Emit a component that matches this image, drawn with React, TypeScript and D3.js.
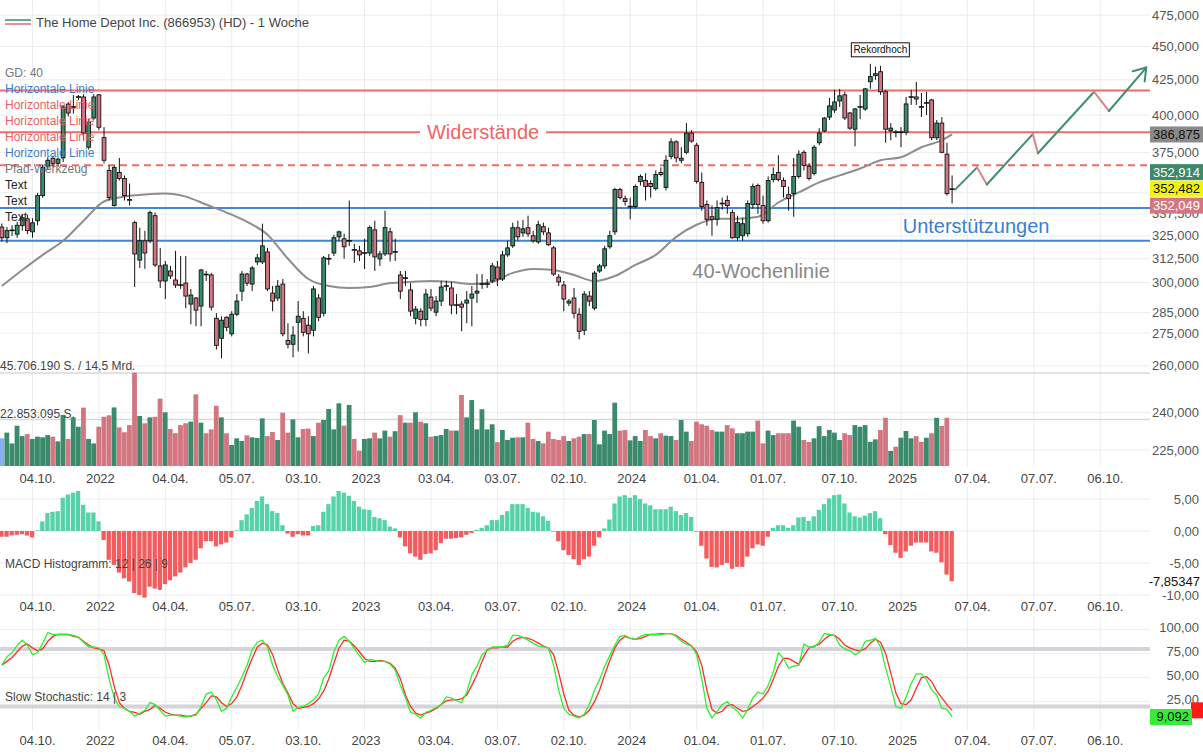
import * as d3 from "d3";

// ---- data (weekly, first candle = week of Mon 23.08.2021) ----
const firstWeek = new Date(2021, 7, 23);

// [open, high, low, close]
const ohlc: number[][] = [
  [330, 332, 322, 324], [324, 330, 321, 328], [328, 331, 325, 328.3], [326, 333, 324, 331], [330.8, 337.5, 328, 335.3],
  [334.7, 337, 326, 328], [327.3, 335, 324, 332.4], [333.6, 350, 331, 348.3], [348.3, 367, 347, 365.6], [366.3, 372, 364, 370.1],
  [371.4, 373, 366, 368.2], [368.2, 372, 366, 370.8], [371.6, 407, 369, 405.6], [407.6, 409, 399, 401.4], [405.4, 414, 401, 405.8],
  [412.4, 414.1, 410.5, 412.8], [412.6, 414.6, 383.1, 387.8], [378.5, 397.5, 377, 395.2], [398, 414.6, 396.6, 412.6], [414.1, 414.6, 389.8, 391.7],
  [384.8, 391.8, 368.2, 370.1], [363.7, 366.9, 345.4, 347.1], [342.4, 366.9, 341.8, 365.6], [362.4, 371.6, 357.5, 358.7], [358.7, 360.6, 345.4, 348.3],
  [346, 355.6, 342.4, 345.5], [332.5, 333.6, 297.7, 315.1], [311.8, 329.6, 307.6, 322.3], [322.3, 327.9, 307.1, 315.6], [322.3, 339.4, 321, 338.3],
  [336.5, 338.3, 308.1, 309.2], [308.7, 318.4, 297.2, 300.8], [300.8, 311.3, 291.6, 309.2], [306, 308.7, 301.8, 303.4], [301.3, 316.8, 297.2, 298.7],
  [298.9, 314, 296.7, 298.5], [299.7, 314, 287.1, 293.1], [289.1, 296.7, 279.2, 293.6], [292.1, 292.6, 278.3, 286.1], [288.1, 307.1, 278.3, 306.5],
  [304.4, 306, 300.8, 303.9], [303.9, 305, 286, 287.6], [282.1, 284.6, 267.4, 269.3], [272.6, 283.1, 263.4, 281.2], [282.6, 283.1, 275.9, 277.8],
  [274.7, 285.6, 273.5, 284.1], [284.1, 294.1, 283.1, 290.6], [295.6, 306, 290.6, 304.4], [304.4, 305, 298.2, 299.7], [299.2, 308.7, 295.6, 307.6],
  [310.8, 315.1, 309.2, 313], [310.8, 331.9, 309.7, 319.5], [316.2, 318.4, 295.6, 296.7], [294.6, 298.2, 285.6, 290.6], [292.1, 301.3, 290.6, 298.2],
  [299.2, 301.8, 273.5, 274.7], [271.6, 279.7, 267.9, 269.8], [269.8, 278.3, 263.8, 274.1], [280.2, 290.6, 266.5, 283.1], [282.1, 285.6, 273.5, 275.4],
  [278.8, 283.1, 265.6, 274.7], [276.4, 298.2, 273.5, 296.7], [292.1, 294.1, 280.7, 282.6], [284.6, 314, 283.1, 313], [312.3, 315.1, 309.2, 312.7],
  [315.6, 325.6, 314, 324], [324.5, 327.9, 322.3, 327.3], [323.4, 326.2, 312.5, 319], [322.1, 345.4, 319.5, 322.5], [317.5, 320.6, 310.3, 317.1],
  [316.8, 319.5, 311.3, 314.6], [315.4, 323.4, 307.1, 315.8], [315.6, 330.8, 314, 329.7], [328.4, 333.6, 306, 313.5], [312.4, 316.8, 308.7, 315.1],
  [315.1, 339.4, 314, 329.7], [327.3, 329.6, 311, 315.1], [316, 323.4, 311.3, 316.4], [303.9, 306, 291.6, 295.6], [302.1, 306, 298.2, 302.5],
  [296.2, 299.7, 283.1, 285.6], [282.1, 288.1, 279.2, 286.6], [285.6, 287.1, 278.3, 281.6], [281.6, 296.7, 278.3, 294.1], [292.6, 296.7, 285.6, 287.1],
  [285.1, 293.1, 283.1, 290.6], [290.6, 300.8, 288.1, 297.7], [298, 300.8, 295.6, 298.4], [297.2, 300.3, 284.1, 288.6], [288.4, 294.1, 284.1, 288.8],
  [289.1, 290.6, 275.9, 287.6], [289.6, 295.6, 279.7, 291.1], [292.1, 298.2, 278.3, 294.1], [294.6, 304.4, 289.6, 295.6], [299, 304.4, 296.7, 299.4],
  [299, 301.8, 297.2, 299.4], [300.8, 310.3, 299.7, 308.7], [308.1, 311.3, 298.2, 301.8], [301.8, 316.8, 300.8, 314.6], [314.6, 322.3, 313.5, 318.4],
  [319.5, 332.5, 318.4, 329.6], [329.6, 333.6, 322.3, 324.5], [326.7, 334.1, 324.5, 329], [329.6, 336.5, 324.5, 326.2], [325.1, 327.9, 321.2, 322.3],
  [321.7, 333.6, 320.6, 331.3], [330.2, 332.5, 325.6, 327.3], [326.7, 329.6, 319.5, 320.1], [318.4, 319.5, 303.4, 304.4], [302.8, 304.4, 298.2, 300.3],
  [298.7, 300.8, 285.6, 291.6], [289.6, 291.6, 288.1, 290.6], [292.1, 297.2, 282.1, 284.6], [284.1, 287.1, 272.1, 275.9], [276.4, 295.6, 274.1, 294.1],
  [293.1, 295.6, 288.1, 290.6], [287.1, 306, 286.1, 304.9], [306, 309.7, 305, 308.7], [308.7, 319.5, 307.1, 317.9], [319, 327.9, 317.9, 325.1],
  [327.3, 353, 325.6, 352], [352, 353, 346, 347.1], [346.5, 348.3, 342.4, 344.8], [341.6, 347.1, 334.4, 342], [341.8, 355, 340.6, 353.8],
  [356.9, 361.2, 354.4, 360], [357.5, 361.9, 345.4, 353.8], [355.6, 357.5, 347.1, 353.8], [352.6, 363.7, 351.4, 361.2], [362.4, 365.6, 360, 361.2],
  [353.2, 373.3, 351.4, 370.1], [372.6, 384.4, 370.7, 382], [382, 383.1, 368.8, 371.6], [370.1, 378.5, 368.2, 371.4], [375.2, 394.5, 374, 387.8],
  [387.8, 389.8, 381.4, 382.5], [379.8, 381.4, 355.6, 356.9], [356.3, 362.4, 339.4, 341.8], [343, 345.4, 330.8, 334.4], [335.9, 342.4, 325.1, 334.4],
  [334.4, 345.4, 330.8, 341.2], [343.4, 347.1, 340, 343.8], [345.4, 348.3, 337.6, 342.4], [338.3, 340, 323.4, 324], [324, 336.5, 322.3, 332.5],
  [325.1, 335.3, 322.3, 331.9], [326.2, 345.4, 324.5, 343.6], [343, 355.6, 340.6, 353.8], [354.4, 355.6, 337.6, 343], [342.4, 348.3, 331.9, 333.6],
  [333.6, 360, 332.5, 357.5], [358.1, 365.6, 356.3, 361.2], [362.4, 373.3, 356.9, 358.1], [357.5, 359.3, 347.1, 353.8], [348.9, 353.8, 339.4, 346.5],
  [349.5, 371.6, 335.9, 359.9], [360, 376.5, 358.7, 374], [375.2, 376.5, 363.7, 366.9], [366.3, 368.2, 357.5, 358.7], [361.9, 379.8, 360.6, 378.5],
  [381.4, 391.1, 379.8, 387.8], [389.2, 398.6, 388.4, 397.9], [398.6, 411.9, 396.6, 406.3], [403.5, 417.7, 401.4, 409.1], [409.8, 418.4, 405.6, 413.4],
  [414.1, 416.3, 396.6, 398], [401.4, 402.1, 389.8, 391.1], [390.4, 404.9, 379.1, 404.2], [405.4, 414.1, 397.2, 405.8], [404.2, 419.1, 402.8, 418.4],
  [423.6, 436.8, 418.4, 427.3], [428, 434.6, 425, 429.4], [430.9, 435.3, 414.1, 416.3], [416.3, 417.7, 381.4, 390.4], [389.2, 394.5, 383.1, 391.1],
  [388.6, 389.8, 385, 388.2], [388.2, 391.8, 378.5, 388.6], [388.4, 412.6, 386.4, 407.7], [412.4, 417.7, 407, 412.8], [412.6, 423.5, 407, 411.2],
  [405.8, 415.5, 398.6, 405.4], [408.2, 416.3, 400, 408.6], [410.5, 411.2, 383.1, 384.7], [384.7, 396.6, 383.1, 394.5], [394.5, 398.6, 374.6, 375.2],
  [374, 381.4, 348.3, 349.5], [351.9, 360.6, 343.6, 352.5],
];

// volume in millions of shares
const volumeM = [
  13.6, 16.4, 11.1, 19.8, 14.7, 15.7, 13.3, 14.4, 14.1, 15.2,
  14.4, 12.1, 25.1, 13.3, 23.9, 19.3, 28.7, 13.3, 11.1, 19.3,
  24.2, 24.9, 28.8, 19.0, 16.6, 20.1, 45.9, 24.6, 21.0, 23.9,
  24.2, 33.1, 26.4, 18.2, 16.1, 20.1, 21.0, 21.8, 35.2, 21.3,
  16.1, 18.0, 29.6, 23.9, 16.1, 10.3, 13.6, 12.3, 15.1, 14.1,
  13.8, 23.4, 14.7, 16.7, 12.8, 26.2, 16.4, 22.9, 14.1, 18.2,
  18.4, 14.7, 21.3, 22.6, 28.0, 18.0, 30.8, 19.8, 30.0, 13.3,
  7.5, 13.3, 13.6, 16.4, 13.6, 17.4, 14.4, 17.1, 25.0, 21.3,
  21.3, 26.4, 21.8, 21.0, 14.4, 14.7, 15.2, 18.2, 17.4, 17.4,
  34.9, 23.9, 32.4, 18.0, 27.9, 18.0, 20.5, 11.7, 17.7, 12.8,
  13.9, 14.1, 14.1, 21.3, 13.3, 12.3, 11.1, 16.9, 13.3, 12.8,
  14.7, 12.3, 13.6, 14.4, 15.7, 15.7, 22.6, 10.7, 17.4, 15.7,
  31.1, 17.4, 17.7, 12.6, 14.7, 12.3, 17.7, 14.7, 13.6, 16.1,
  14.9, 14.7, 12.8, 22.6, 16.9, 12.3, 21.8, 20.5, 19.8, 17.7,
  16.9, 16.9, 20.1, 18.5, 16.1, 16.1, 16.9, 16.9, 22.3, 11.1,
  17.4, 15.2, 16.1, 16.1, 16.1, 22.3, 19.3, 12.8, 11.8, 13.6,
  19.6, 14.7, 17.7, 16.4, 12.8, 16.1, 15.2, 20.1, 19.3, 20.1,
  11.9, 13.1, 17.7, 23.7, 7.4, 9.5, 13.9, 17.2, 13.6, 14.7,
  11.9, 13.9, 16.1, 23.7, 19.7, 23.7, 0,
];

const macdHist = [
  -0.9, -0.9, -0.7, -0.6, -0.5, -0.7, -1.0, 0.1, 1.5, 2.8,
  3.0, 3.1, 5.2, 5.7, 6.0, 6.25, 4.1, 2.9, 2.9, 1.5,
  -1.4, -4.5, -5.3, -6.5, -7.4, -7.9, -9.7, -10.0, -10.4, -8.7,
  -9.0, -9.2, -8.3, -7.7, -7.1, -6.5, -5.7, -5.0, -4.5, -2.7,
  -1.6, -1.6, -2.4, -2.1, -1.8, -1.0, 0.1, 1.7, 2.6, 3.6,
  4.7, 5.4, 4.2, 3.1, 2.8, 0.9, -0.4, -0.9, -0.5, -0.7,
  -0.7, 0.8, 0.9, 3.0, 4.2, 5.4, 6.25, 6.0, 5.5, 4.7,
  3.8, 3.4, 3.3, 2.2, 2.0, 1.7, 0.7, 0.4, -1.0, -2.4,
  -3.5, -4.0, -4.5, -3.6, -3.5, -3.0, -1.9, -1.2, -1.2, -1.1,
  -1.0, -0.6, -0.3, 0.2, 0.5, 0.9, 1.7, 1.7, 2.5, 3.1,
  4.2, 4.2, 4.2, 3.6, 3.0, 2.9, 2.3, 1.6, -0.1, -1.6,
  -3.0, -3.75, -4.4, -5.3, -4.4, -4.0, -2.3, -1.0, 0.4, 1.8,
  4.3, 5.4, 5.6, 5.2, 5.6, 5.0, 4.3, 4.0, 3.4, 3.4,
  3.4, 3.8, 3.1, 2.5, 2.8, 2.2, -0.1, -2.3, -4.3, -5.6,
  -5.7, -5.3, -5.0, -5.9, -5.6, -5.6, -4.0, -2.7, -2.1, -2.3,
  -0.9, 0.5, 0.9, 0.9, 0.5, 0.9, 2.1, 2.2, 1.6, 2.3,
  3.3, 4.2, 5.1, 5.6, 5.7, 4.3, 2.9, 2.3, 2.1, 2.4,
  2.8, 3.1, 2.0, -0.5, -2.2, -3.4, -4.2, -3.2, -2.3, -1.8,
  -1.8, -1.8, -3.2, -3.4, -4.9, -6.8, -7.85,
];

const stochK = [
  63, 72, 76, 84, 89, 84, 74, 76, 86, 97,
  95, 95, 95, 95, 94, 92, 87, 82, 82, 81,
  74, 48, 29, 20, 18, 15, 10, 13, 16, 24,
  22, 16, 10, 11, 11, 10, 9, 10, 11, 20,
  33, 35, 27, 15, 18, 30, 40, 51, 63, 79,
  87, 89, 82, 63, 51, 42, 32, 15, 19, 20,
  23, 27, 33, 50, 57, 77, 89, 93, 88, 80,
  73, 66, 69, 68, 67, 67, 64, 58, 42, 29,
  14, 12, 8, 14, 16, 19, 22, 30, 29, 26,
  24, 35, 53, 62, 74, 78, 82, 82, 82, 84,
  94, 94, 92, 89, 86, 83, 82, 81, 63, 37,
  18, 12, 10, 8, 12, 22, 37, 48, 62, 73,
  84, 93, 94, 91, 90, 93, 95, 95, 95, 95,
  96, 96, 93, 88, 85, 83, 74, 49, 18, 8,
  15, 22, 25, 19, 15, 8, 17, 29, 35, 33,
  42, 56, 76, 70, 60, 62, 63, 85, 82, 82,
  87, 96, 95, 94, 84, 80, 78, 74, 77, 88,
  89, 91, 82, 60, 41, 20, 18, 30, 44, 54,
  54, 48, 37, 32, 18, 17, 9.092,
];

const stochD = [
  63, 67, 71, 77, 83, 85, 81, 78, 80, 88,
  93, 95, 95, 95, 93, 92, 88, 84, 81, 80,
  78, 63, 41, 24, 18, 15, 14, 12, 15, 17,
  21, 18, 14, 12, 11, 11, 10, 10, 12, 18,
  24, 31, 30, 24, 20, 23, 30, 42, 57, 70,
  82, 86, 84, 74, 58, 44, 34, 23, 18, 19,
  20, 23, 28, 36, 49, 65, 81, 89, 88, 83,
  77, 70, 67, 67, 68, 67, 65, 60, 49, 32,
  20, 13, 11, 13, 15, 18, 22, 26, 27, 27,
  28, 32, 42, 53, 67, 79, 81, 81, 82, 82,
  88, 91, 92, 91, 89, 86, 83, 81, 74, 55,
  33, 16, 11, 9, 11, 16, 25, 37, 53, 68,
  81, 89, 93, 91, 90, 91, 93, 95, 95, 96,
  96, 96, 94, 90, 87, 83, 77, 63, 37, 17,
  13, 15, 21, 22, 18, 15, 16, 20, 24, 29,
  36, 48, 62, 70, 70, 67, 64, 73, 81, 83,
  85, 90, 94, 94, 90, 84, 81, 79, 78, 80,
  86, 90, 87, 75, 55, 34, 23, 22, 27, 39,
  50, 51, 46, 36, 29, 22, 16,
];

// 40-week moving average, read every 4 weeks
const maWeeks = [0, 4, 8, 12, 16, 20, 24, 28, 32, 36, 40, 44, 48, 52, 56, 60, 64, 68, 72, 76, 80, 84, 88, 92,
  96, 100, 104, 108, 112, 116, 120, 124, 128, 132, 136, 140, 144, 148, 152, 156, 160, 164, 168, 172, 176, 180, 184, 186];
const maValues = [298.2, 306.5, 314.6, 322.3, 333.6, 344.8, 347.7, 348.9, 349.5, 347.7, 343.0, 338.3, 333.0, 325.7,
  312.5, 301.8, 298.2, 297.2, 297.7, 299.7, 300.3, 300.8, 300.3, 299.2, 300.3, 305.0, 307.1, 306.5, 303.9, 300.8,
  303.4, 309.2, 314.6, 324.5, 331.3, 334.7, 334.7, 335.9, 344.2, 350.2, 356.3, 360.6, 364.9, 370.1, 372.0, 378.5,
  383.1, 386.875];

const dateTickLabels = ["04.10.", "2022", "04.04.", "05.07.", "03.10.", "2023", "03.04.", "03.07.", "02.10.",
  "2024", "01.04.", "01.07.", "07.10.", "2025", "07.04.", "07.07.", "06.10."];
const dateTickDates = ["2021-10-04", "2022-01-03", "2022-04-04", "2022-07-04", "2022-10-03", "2023-01-02",
  "2023-04-03", "2023-07-03", "2023-10-02", "2024-01-01", "2024-04-01", "2024-07-01", "2024-10-07",
  "2025-01-06", "2025-04-07", "2025-07-07", "2025-10-06"];

const priceTicks = [475, 450, 425, 400, 375, 350, 337.5, 325, 312.5, 300, 285, 275, 260, 240, 225];
// 350,000 sits under the value boxes, so no label for it
const priceLabels = [475, 450, 425, 400, 375, 337.5, 325, 312.5, 300, 285, 275, 260, 240, 225];
const macdTicks = [5, 0, -5, -10];
const stochTicks = [100, 75, 50, 25];

// drawn horizontal lines (Horizontale Linie)
const hLinePrices = [417.2, 388.4, 366.9, 341.0, 322.3];
const hLineKinds = ["res", "res", "resDash", "sup", "sup"];

// Pfad-Werkzeug: [week index, price]
const pathWeeks = [186.6, 190.9, 192.8, 201.8, 202.8, 213.8, 216.7, 224.0];
const pathPrices = [351.9, 365.6, 355.0, 387.1, 374.6, 416.3, 402.8, 434.0];

const toolLabels = ["GD: 40", "Horizontale Linie", "Horizontale Linie", "Horizontale Linie", "Horizontale Linie",
  "Horizontale Linie", "Pfad-Werkzeug", "Text", "Text", "Text"];
const toolColors = ["#777", "#3a7fd3", "#f0605f", "#f0605f", "#f0605f", "#3a7fd3", "#777", "#222", "#222", "#222"];

const FONT = "'Liberation Sans', Arial, Helvetica, sans-serif";
const C_UP = "#3a8a6b";
const C_DN = "#d27782";
const C_RES = "#f06464";
const C_SUP = "#3a7fd3";
const GRID = "#ececec";
const PLOT_R = 1150;

const fmt = (v: number, d: number) => v.toFixed(d).replace(".", ",");

export default function App() {
  const W = 1203, H = 754;
  const x = d3.scaleTime()
    .domain([new Date(2021, 9, 4), new Date(2025, 0, 6)])
    .range([32.5, 901]);
  const weekPx = (x(new Date(2025, 0, 6)) - x(new Date(2021, 9, 4))) / 170;
  const x0 = x(firstWeek);
  const xi = (i: number) => x0 + i * weekPx;

  const yP = d3.scaleLog().domain([225, 475]).range([450, 15]);
  const yV = d3.scaleLinear().domain([0, 45.70619]).range([466, 373]);
  const yM = d3.scaleLinear().domain([0, 5]).range([531, 499]);
  const yS = d3.scaleLinear().domain([0, 100]).range([725.7, 629.7]);

  const tickDates = dateTickDates.map((s) => d3.timeParse("%Y-%m-%d")(s) as Date);

  const maLine = d3.line<number>()
    .x((_, i) => xi(maWeeks[i]))
    .y((d) => yP(d))
    .curve(d3.curveMonotoneX);
  const stochLine = d3.line<number>()
    .x((_, i) => xi(i))
    .y((d) => yS(d));

  const last = ohlc[ohlc.length - 1];
  const lastY = yP(last[3]);

  // path segments
  const segs = pathWeeks.slice(1).map((w, k) => ({
    x1: xi(pathWeeks[k]), y1: yP(pathPrices[k]), x2: xi(w), y2: yP(pathPrices[k + 1]),
    up: pathPrices[k + 1] > pathPrices[k],
  }));
  const lastSeg = segs[segs.length - 1];
  const ang = Math.atan2(lastSeg.y2 - lastSeg.y1, lastSeg.x2 - lastSeg.x1);
  const head = [ang + Math.PI - 0.6, ang + Math.PI + 0.6].map((a) => [
    lastSeg.x2 + 14 * Math.cos(a), lastSeg.y2 + 14 * Math.sin(a),
  ]);

  const dateRow = (y: number, key: string) => (
    <g key={key}>
      {tickDates.map((d, k) => (
        <text key={k} x={x(d) - 13} y={y} fontSize={13} fill="#444" dominantBaseline="central">
          {dateTickLabels[k]}
        </text>
      ))}
    </g>
  );

  const vGrid = (y1: number, y2: number, key: string) => (
    <g key={key}>
      {tickDates.map((d, k) => (
        <line key={k} x1={x(d)} x2={x(d)} y1={y1} y2={y2} stroke={GRID} strokeWidth={1} />
      ))}
    </g>
  );

  const valueBox = (y: number, label: string, fill: string, color: string, key: string, w = 53, bx = 1150) => (
    <g key={key}>
      <rect x={bx} y={y - 8} width={w} height={16} fill={fill} />
      {label && (
        <text x={bx + w - 3} y={y} textAnchor="end" dominantBaseline="central" fontSize={13} fill={color}>{label}</text>
      )}
    </g>
  );

  const resY = yP(hLinePrices[1]);

  return (
    <div style={{ position: "absolute", left: 0, top: 0 }}>
      <svg width={W} height={H} style={{ display: "block", background: "#fff", fontFamily: FONT }}>
        <defs>
          <clipPath id="cp-price"><rect x={0} y={0} width={PLOT_R} height={468} /></clipPath>
          <clipPath id="cp-macd"><rect x={0} y={486} width={PLOT_R} height={114} /></clipPath>
          <clipPath id="cp-stoch"><rect x={0} y={616} width={PLOT_R} height={114} /></clipPath>
        </defs>

        {/* grids */}
        {vGrid(0, 467, "vg1")}
        {vGrid(487, 600, "vg2")}
        {vGrid(617, 730, "vg3")}
        {priceTicks.map((v) => (
          <line key={v} x1={0} x2={PLOT_R} y1={yP(v)} y2={yP(v)} stroke={GRID} />
        ))}
        <line x1={0} x2={PLOT_R} y1={yV(45.70619)} y2={yV(45.70619)} stroke="#d9d9d9" strokeWidth={1.5} />
        <line x1={0} x2={PLOT_R} y1={yV(22.853095)} y2={yV(22.853095)} stroke="#d9d9d9" strokeWidth={1.5} />
        {macdTicks.map((v) => (
          <line key={v} x1={0} x2={PLOT_R} y1={yM(v)} y2={yM(v)} stroke={GRID} />
        ))}
        {stochTicks.map((v) => (
          <line key={v} x1={0} x2={PLOT_R} y1={yS(v)} y2={yS(v)} stroke={GRID} />
        ))}

        {/* volume */}
        <g clipPath="url(#cp-price)">
          {volumeM.map((v, i) => {
            if (!v) return null;
            const [o, , , c] = ohlc[i];
            const fill = i === 0 ? "#86aeef" : c >= o ? C_UP : C_DN;
            return (
              <rect key={i} x={xi(i) - weekPx / 2} y={yV(v)} width={weekPx - 0.3}
                height={yV(0) - yV(v)} fill={fill} />
            );
          })}
        </g>

        {/* horizontal tool lines */}
        <g clipPath="url(#cp-price)">
          {hLinePrices.map((p, k) => (
            <line key={k} x1={0} x2={PLOT_R + 4} y1={yP(p)} y2={yP(p)}
              stroke={hLineKinds[k] === "sup" ? C_SUP : C_RES} strokeWidth={2}
              strokeDasharray={hLineKinds[k] === "resDash" ? "7 5" : undefined} opacity={0.95} />
          ))}
        </g>

        {/* text annotations */}
        <rect x={xi(94.2) - 63} y={resY - 12} width={126} height={24} fill="#fff" />
        <text x={xi(94.2)} y={resY} textAnchor="middle" dominantBaseline="central" fontSize={20} fill={C_RES}>Widerstände</text>
        <text x={xi(190.7)} y={yP(330.8)} textAnchor="middle" dominantBaseline="central" fontSize={20} fill={C_SUP}>Unterstützungen</text>
        <text x={xi(148.6)} y={yP(306)} textAnchor="middle" dominantBaseline="central" fontSize={20} fill="#888">40-Wochenlinie</text>

        {/* moving average */}
        <g clipPath="url(#cp-price)">
          <path d={maLine(maValues) || ""} fill="none" stroke="#8e8e8e" strokeWidth={2} />
        </g>

        {/* candles */}
        <g clipPath="url(#cp-price)">
          {ohlc.map(([o, h, l, c], i) => {
            const cx = xi(i);
            const yt = yP(Math.max(o, c));
            const yb = yP(Math.min(o, c));
            const doji = yb - yt < 1.3;
            return (
              <g key={i}>
                <line x1={cx} x2={cx} y1={yP(h)} y2={yP(l)} stroke="#111" strokeWidth={1} />
                {doji ? (
                  <line x1={cx - 2.6} x2={cx + 2.6} y1={(yt + yb) / 2} y2={(yt + yb) / 2} stroke="#111" strokeWidth={1.6} />
                ) : (
                  <rect x={cx - 1.9} y={yt} width={3.8} height={yb - yt} fill={c >= o ? C_UP : C_DN}
                    stroke="#111" strokeWidth={0.9} />
                )}
              </g>
            );
          })}
        </g>

        {/* path tool */}
        {segs.map((s, k) => (
          <line key={k} x1={s.x1} y1={s.y1} x2={s.x2} y2={s.y2} stroke={s.up ? "#3f8f70" : "#d9848c"}
            strokeWidth={2} strokeLinecap="round" />
        ))}
        {head.map(([hx, hy], k) => (
          <line key={k} x1={lastSeg.x2} y1={lastSeg.y2} x2={hx} y2={hy} stroke="#3f8f70" strokeWidth={2} strokeLinecap="round" />
        ))}

        {/* Rekordhoch */}
        <g>
          <rect x={xi(170) - 19} y={yP(436.8) - 21} width={58} height={14} fill="#fff" stroke="#111" strokeWidth={1} />
          <text x={xi(170) + 10} y={yP(436.8) - 14} textAnchor="middle" dominantBaseline="central" fontSize={10} fill="#111">Rekordhoch</text>
        </g>

        {/* MACD */}
        <g clipPath="url(#cp-macd)">
          {macdHist.map((v, i) => (
            <rect key={i} x={xi(i) - weekPx / 2} y={Math.min(yM(0), yM(v))} width={weekPx - 0.8}
              height={Math.abs(yM(v) - yM(0))} fill={v >= 0 ? "#55d2a8" : "#f25c5c"} />
          ))}
        </g>

        {/* stochastic */}
        <line x1={0} x2={PLOT_R} y1={yS(80)} y2={yS(80)} stroke="#d4d4da" strokeWidth={4} />
        <line x1={0} x2={PLOT_R} y1={yS(20)} y2={yS(20)} stroke="#d4d4da" strokeWidth={4} />
        <g clipPath="url(#cp-stoch)">
          <path d={stochLine(stochD) || ""} fill="none" stroke="#ff2b2b" strokeWidth={1.3} />
          <path d={stochLine(stochK) || ""} fill="none" stroke="#2ef02e" strokeWidth={1.3} />
        </g>

        {/* date axes */}
        {dateRow(478, "d1")}
        {dateRow(606, "d2")}
        {dateRow(740, "d3")}

        {/* right axes */}
        {priceLabels.map((v) => (
          <text key={v} x={1199} y={yP(v)} textAnchor="end" dominantBaseline="central" fontSize={13} fill="#555">
            {fmt(v, 3)}
          </text>
        ))}
        {macdTicks.map((v) => (
          <text key={v} x={1199} y={yM(v)} textAnchor="end" dominantBaseline="central" fontSize={13} fill="#555">
            {fmt(v, 2)}
          </text>
        ))}
        {stochTicks.map((v) => (
          <text key={v} x={1199} y={yS(v) - 2} textAnchor="end" dominantBaseline="central" fontSize={13} fill="#555">
            {fmt(v, 2)}
          </text>
        ))}

        {valueBox(yP(386.875), "386,875", "#8a8a8a", "#111", "b1")}
        {valueBox(lastY - 16.5, "352,914", C_UP, "#fff", "b2")}
        {valueBox(lastY, "352,482", "#f2f20a", "#111", "b3")}
        {valueBox(lastY + 17, "352,049", C_DN, "#fff", "b4")}
        {valueBox(yM(macdHist[macdHist.length - 1]), fmt(-7.85347, 5), "#fff", "#111", "b5")}
        {valueBox(yS(stochD[stochD.length - 1]), "", "#ff1a1a", "#111", "b6", 12, 1191)}
        {valueBox(yS(stochK[stochK.length - 1]), "9,092", "#33ee33", "#111", "b7", 42)}

        {/* legend and labels */}
        <line x1={5} x2={31} y1={20} y2={20} stroke="#3a8a6b" strokeWidth={1.5} />
        <line x1={5} x2={31} y1={24} y2={24} stroke="#e06a6a" strokeWidth={1.5} />
        <text x={36} y={22} dominantBaseline="central" fontSize={13} fill="#444">
          The Home Depot Inc. (866953) (HD) - 1 Woche
        </text>
        {toolLabels.map((t, k) => (
          <text key={k} x={5} y={73 + 16 * k} dominantBaseline="central" fontSize={12} fill={toolColors[k]}>{t}</text>
        ))}
        <text x={0} y={366} dominantBaseline="central" fontSize={12} fill="#444">45.706.190 S. / 14,5 Mrd.</text>
        <text x={0} y={414} dominantBaseline="central" fontSize={12} fill="#444">22.853.095 S.</text>
        <text x={5} y={564} dominantBaseline="central" fontSize={12} fill="#444">MACD Histogramm: 12 | 26 | 9</text>
        <text x={5} y={697} dominantBaseline="central" fontSize={12} fill="#444">Slow Stochastic: 14 | 3</text>
      </svg>
    </div>
  );
}
